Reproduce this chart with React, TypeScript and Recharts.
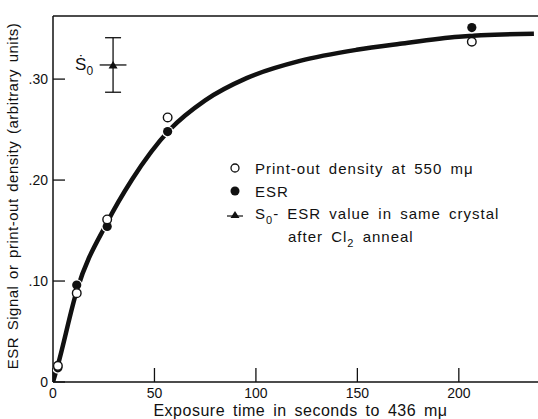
import React from 'react';
import { ComposedChart, Line, Scatter, XAxis, YAxis, ErrorBar, Legend } from 'recharts';

// fitted curve
const curveTime = [0, 2.3, 11.8, 26.7, 38.8, 57.6, 75, 95.4, 121.7, 149.6, 171, 200, 237];
const curveSignal = [0, 0.016, 0.091, 0.158, 0.2, 0.25, 0.279, 0.301, 0.318, 0.329, 0.335, 0.342, 0.345];

// measured points
const sampleTime = [2.4, 11.7, 26.7, 56.5, 206.4];
const printOutDensity = [0.016, 0.088, 0.161, 0.262, 0.337];
const esrSignal = [0.014, 0.096, 0.154, 0.248, 0.351];

// S0 - ESR value after Cl2 anneal
const s0Time = [29.6];
const s0Value = [0.314];
const s0TimeErr = [6.6];
const s0ValueErr = [0.027];

const xTicks = [0, 50, 100, 150, 200];
const topTicks = [50, 100, 150, 200];
const yTicks = [0, 0.1, 0.2, 0.3];
const rightTicks = [0.1, 0.2, 0.3];

const curve = curveTime.map((t, i) => ({ x: t, y: curveSignal[i] }));
const printOut = sampleTime.map((t, i) => ({ x: t, y: printOutDensity[i] }));
const esr = sampleTime.map((t, i) => ({ x: t, y: esrSignal[i] }));
const s0 = s0Time.map((t, i) => ({ x: t, y: s0Value[i], ex: s0TimeErr[i], ey: s0ValueErr[i] }));

const FONT = '"Liberation Sans", Arial, sans-serif';

const OpenDot = (props: any) => {
  const { cx, cy } = props;
  return <circle cx={cx} cy={cy} r={4.3} fill="#fff" stroke="#111" strokeWidth={1.4} />;
};

const FilledDot = (props: any) => {
  const { cx, cy } = props;
  return (
    <g>
      <circle cx={cx} cy={cy} r={5.8} fill="#fff" />
      <circle cx={cx} cy={cy} r={4.6} fill="#111" />
    </g>
  );
};

const S0Marker = (props: any) => {
  const { cx, cy } = props;
  return (
    <g>
      <polygon points={`${cx},${cy - 4} ${cx - 4.5},${cy + 3.5} ${cx + 4.5},${cy + 3.5}`} fill="#111" />
      <text x={cx - 38} y={cy + 5} fontSize={17} fontFamily={FONT} fill="#111">
        Ṡ<tspan dy={5} fontSize={12}>0</tspan>
      </text>
    </g>
  );
};

const LegendBox = () => {
  const row: React.CSSProperties = { display: 'flex', alignItems: 'center', height: 22.7, whiteSpace: 'nowrap' };
  const mark: React.CSSProperties = { width: 35, display: 'flex', justifyContent: 'center', paddingRight: 3 };
  const sub: React.CSSProperties = { fontSize: 11, verticalAlign: -5, lineHeight: 0 };
  return (
    <div style={{ fontFamily: FONT, fontSize: 15, color: '#111', letterSpacing: 1, wordSpacing: 3 }}>
      <div style={row}>
        <span style={mark}>
          <svg width={12} height={12}><circle cx={6} cy={6} r={4} fill="#fff" stroke="#111" strokeWidth={1.3} /></svg>
        </span>
        <span>Print-out density at 550 mμ</span>
      </div>
      <div style={row}>
        <span style={mark}>
          <svg width={12} height={12}><circle cx={6} cy={6} r={4.5} fill="#111" /></svg>
        </span>
        <span>ESR</span>
      </div>
      <div style={row}>
        <span style={mark}>
          <svg width={20} height={12}>
            <line x1={2} y1={8} x2={18} y2={8} stroke="#111" strokeWidth={1.2} />
            <polygon points="10,3 5.5,10 14.5,10" fill="#111" />
          </svg>
        </span>
        <span>
          S<span style={sub}>0</span>- ESR value in same crystal
        </span>
      </div>
      <div style={{ ...row, paddingLeft: 71 }}>
        <span>
          after Cl<span style={sub}>2</span> anneal
        </span>
      </div>
    </div>
  );
};

const App: React.FC = () => {
  const tickStyle = { fontSize: 14, fontFamily: FONT, fill: '#111' };
  return (
    <div style={{ position: 'absolute', left: 0, top: 0, width: 538, height: 419, overflow: 'hidden', background: '#fff' }}>
      <ComposedChart width={560} height={419} margin={{ top: 0, right: 0, bottom: 0, left: 0 }}>
        <XAxis
          dataKey="x"
          type="number"
          domain={[0, 240]}
          ticks={xTicks}
          allowDataOverflow
          height={37}
          tickSize={-14}
          tickMargin={20}
          tick={tickStyle}
          axisLine={{ stroke: '#111', strokeWidth: 1.5 }}
          tickLine={{ stroke: '#111', strokeWidth: 1.3 }}
          label={{ value: 'Exposure time in seconds to 436 mμ', position: 'insideBottom', offset: 3, dx: 4, style: { fontSize: 16, fontFamily: FONT, fill: '#111', letterSpacing: 0.5, wordSpacing: 3 } }}
        />
        <XAxis
          xAxisId="top"
          orientation="top"
          type="number"
          domain={[0, 240]}
          ticks={topTicks}
          allowDataOverflow
          height={16}
          tickSize={-15}
          tick={false}
          axisLine={{ stroke: '#111', strokeWidth: 1.5 }}
          tickLine={{ stroke: '#111', strokeWidth: 1.3 }}
        />
        <YAxis
          type="number"
          domain={[0, 0.3625]}
          ticks={yTicks}
          allowDataOverflow
          width={53}
          tickSize={-12}
          tickMargin={17}
          tick={tickStyle}
          tickFormatter={(v: number) => (v === 0 ? '0' : '.' + Math.round(v * 100))}
          axisLine={{ stroke: '#111', strokeWidth: 1.5 }}
          tickLine={{ stroke: '#111', strokeWidth: 1.3 }}
          label={{ value: 'ESR Signal or print-out density (arbitrary units)', angle: -90, position: 'insideLeft', offset: 13, dy: -3, style: { textAnchor: 'middle', fontSize: 15, fontFamily: FONT, fill: '#111', letterSpacing: 0.5, wordSpacing: 2 } }}
        />
        <YAxis
          yAxisId="right"
          orientation="right"
          type="number"
          domain={[0, 0.3625]}
          ticks={rightTicks}
          allowDataOverflow
          width={20}
          tickSize={-12}
          tick={false}
          axisLine={{ stroke: '#111', strokeWidth: 1.5 }}
          tickLine={{ stroke: '#111', strokeWidth: 1.3 }}
        />
        <Legend
          layout="horizontal"
          verticalAlign="middle"
          align="center"
          content={<LegendBox />}
          wrapperStyle={{ position: 'absolute', left: 217, top: 157, width: 315 }}
        />
        <Line
          data={curve}
          dataKey="y"
          type="monotone"
          stroke="#111"
          strokeWidth={4.5}
          dot={false}
          activeDot={false}
          legendType="none"
          isAnimationActive={false}
        />
        <Scatter data={esr} dataKey="y" shape={<FilledDot />} isAnimationActive={false} />
        <Scatter data={printOut} dataKey="y" shape={<OpenDot />} isAnimationActive={false} />
        <Scatter data={s0} dataKey="y" shape={<S0Marker />} isAnimationActive={false}>
          <ErrorBar dataKey="ey" direction="y" width={8} stroke="#111" strokeWidth={1.3} />
          <ErrorBar dataKey="ex" direction="x" width={0} stroke="#111" strokeWidth={1.3} />
        </Scatter>
      </ComposedChart>
    </div>
  );
};

export default App;
